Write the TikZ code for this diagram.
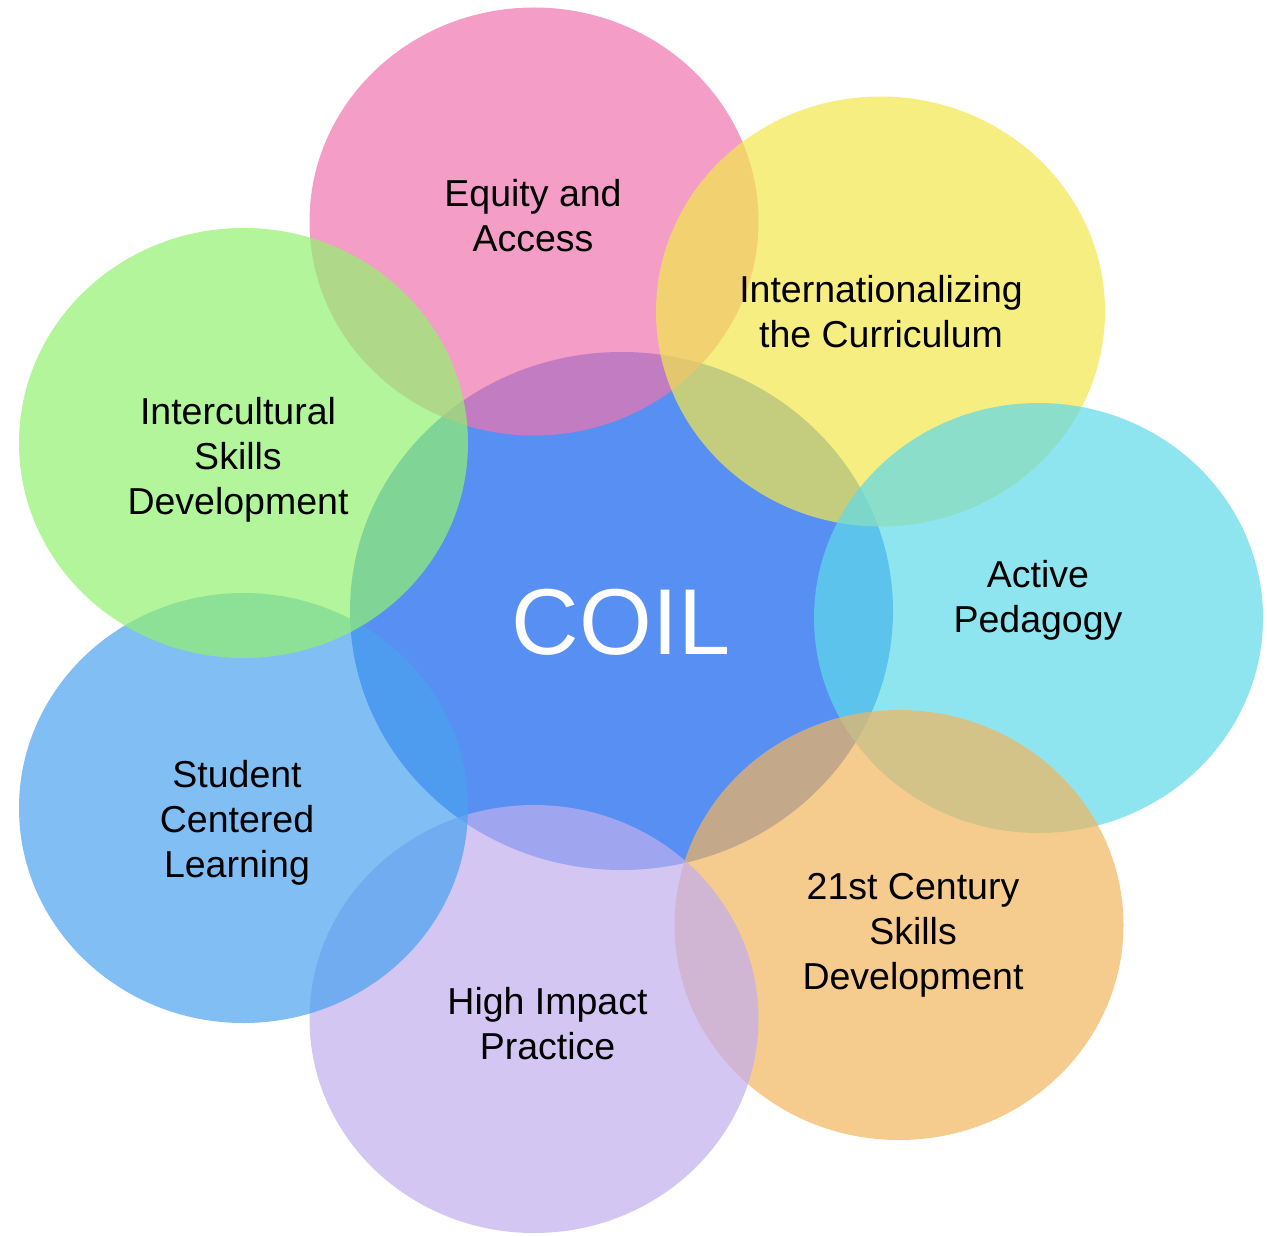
\documentclass[tikz,border=0pt]{standalone}
\usepackage{fontspec}
\setmainfont{Liberation Sans}
\definecolor{coilblue}{RGB}{87,144,242}
\definecolor{equitypink}{RGB}{239,116,174}
\definecolor{intlyellow}{RGB}{242,231,76}
\definecolor{activecyan}{RGB}{94,218,234}
\definecolor{skillsorange}{RGB}{242,181,94}
\definecolor{impactpurple}{RGB}{192,174,238}
\definecolor{studentblue}{RGB}{74,162,239}
\definecolor{culturegreen}{RGB}{146,241,111}
\begin{document}
\begin{tikzpicture}[x=0.5pt,y=-0.5pt,
  petal/.style={fill=#1,fill opacity=0.7},
  lbl/.style={align=center,text=black,font=\fontsize{18.75}{22.5}\selectfont}]
\useasboundingbox (0,0) rectangle (1267,1235);
\fill[coilblue] (621.5,611) ellipse [x radius=271.5,y radius=259];
\fill[petal=equitypink] (534,221.5) ellipse [x radius=224.5,y radius=214];
\fill[petal=intlyellow] (880.5,311.5) ellipse [x radius=224.5,y radius=215];
\fill[petal=activecyan] (1038.5,618) ellipse [x radius=224.5,y radius=215];
\fill[petal=skillsorange] (899,925) ellipse [x radius=224.5,y radius=215];
\fill[petal=impactpurple] (534,1019) ellipse [x radius=224.5,y radius=214];
\fill[petal=studentblue] (243.5,808) ellipse [x radius=224.5,y radius=215];
\fill[petal=culturegreen] (243.5,443) ellipse [x radius=224.5,y radius=215];
\node[lbl] (equity) at (533,216) {Equity and\\Access};
\node[lbl] (intl) at (881,312) {Internationalizing\\the Curriculum};
\node[lbl] (active) at (1038,600) {Active\\Pedagogy};
\node[lbl] (century) at (913,935) {21st Century\\Skills\\Development};
\node[lbl] (impact) at (547.5,1023.5) {High Impact\\Practice};
\node[lbl] (student) at (237,823) {Student\\Centered\\Learning};
\node[lbl] (culture) at (238,459.5) {Intercultural\\Skills\\Development};
\node[text=white,font=\fontsize{46.8}{56}\selectfont] (coil) at (621,622.5) {COIL};
\end{tikzpicture}
\end{document}
